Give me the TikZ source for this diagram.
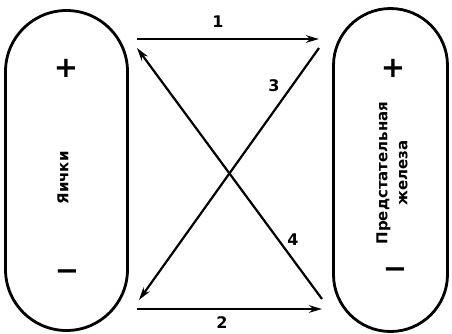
\documentclass[tikz,border=0pt]{standalone}
\usepackage{fontspec}
\setmainfont{DejaVu Sans}
\usetikzlibrary{arrows.meta}
\begin{document}
\begin{tikzpicture}[x=1pt,y=-1pt,
  organ/.style={draw, line width=2.8pt, rounded corners=#1, inner sep=0pt},
  conn/.style={line width=2.2pt, -{Stealth[length=13pt,width=7.5pt]}},
  sign/.style={font=\bfseries\fontsize{29}{29}\selectfont, inner sep=0pt},
  organlabel/.style={rotate=90, align=center, font=\bfseries\fontsize{15}{20}\selectfont, inner sep=0pt},
  numlabel/.style={font=\bfseries\fontsize{16}{16}\selectfont, inner sep=0pt}]
\useasboundingbox (0,0) rectangle (452,333);
\node[organ=61pt, minimum width=122pt, minimum height=320pt] (L) at (66.5,170.5) {};
\node[organ=57pt, minimum width=114pt, minimum height=323pt] (R) at (390.5,170) {};
\node[sign] (lp) at (66,68) {+};
\node[sign] (lm) at (67,275) {−};
\node[sign] (rp) at (393,68) {+};
\node[sign] (rm) at (395,273) {−};
\node[organlabel] (lt) at (63,178) {Яички};
\node[organlabel] (rt) at (392,173) {Предстательная\\железа};
\coordinate (a1) at (137,39);
\coordinate (b1) at (319,39);
\coordinate (a2) at (137,309);
\coordinate (b2) at (322,309);
\coordinate (s3) at (319,48);
\coordinate (e3) at (139,300);
\coordinate (s4) at (322,299);
\coordinate (e4) at (137,48);
\draw[conn] (a1) -- (b1);
\draw[conn] (a2) -- (b2);
\draw[conn] (s3) -- (e3);
\draw[conn] (s4) -- (e4);
\node[numlabel] (n1) at (218,22) {1};
\node[numlabel] (n2) at (222,323) {2};
\node[numlabel] (n3) at (274,86) {3};
\node[numlabel] (n4) at (293,240) {4};
\end{tikzpicture}
\end{document}
